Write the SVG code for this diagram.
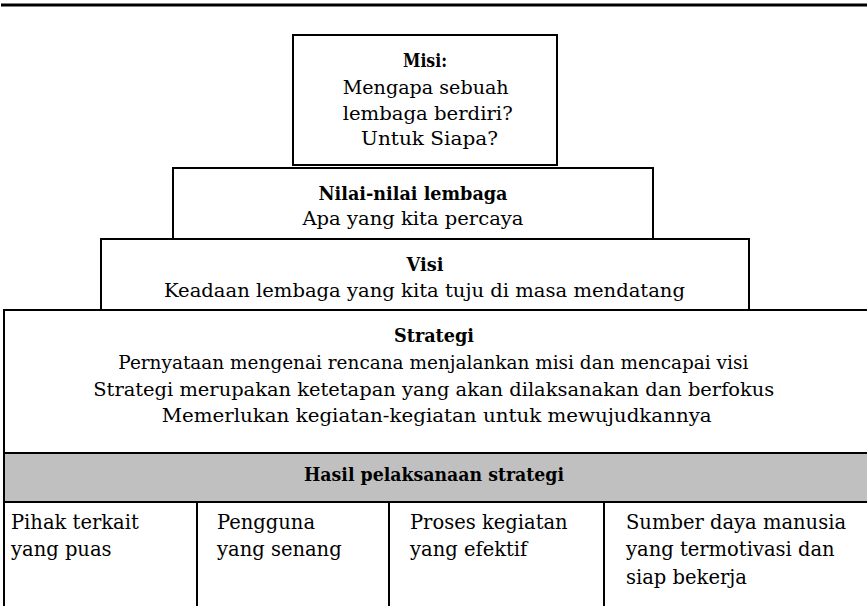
<svg xmlns="http://www.w3.org/2000/svg" width="867" height="606" viewBox="0 0 867 606">
<style>
.box{fill:#fff;stroke:#000;stroke-width:2}
.band{fill:#c0c0c0;stroke:#000;stroke-width:2}
.ln{stroke:#000;stroke-width:2;fill:none}
text{font-family:"DejaVu Serif","Liberation Serif",serif;font-size:19px;fill:#000}
.t{font-weight:bold;font-size:19px}
.c{text-anchor:middle}
.s{font-size:19.5px}
</style>
<rect width="867" height="606" fill="#fff"/>
<line x1="1" y1="5" x2="867" y2="5" stroke="#000" stroke-width="3"/>
<g id="misi">
<rect class="box" x="293" y="35" width="264" height="130"/>
<text class="t c" x="425" y="66.5" textLength="44" lengthAdjust="spacingAndGlyphs">Misi:</text>
<text x="342.7" y="94" textLength="166" lengthAdjust="spacingAndGlyphs">Mengapa sebuah</text>
<text x="342.7" y="120" textLength="170" lengthAdjust="spacingAndGlyphs">lembaga berdiri?</text>
<text x="361" y="145" textLength="137" lengthAdjust="spacingAndGlyphs">Untuk Siapa?</text>
</g>
<g id="nilai">
<rect class="box" x="173" y="168" width="480" height="71"/>
<text class="t c" x="413" y="200" textLength="189" lengthAdjust="spacingAndGlyphs">Nilai-nilai lembaga</text>
<text class="c" x="413" y="225" textLength="221" lengthAdjust="spacingAndGlyphs">Apa yang kita percaya</text>
</g>
<g id="visi">
<rect class="box" x="101" y="239" width="648" height="71"/>
<text class="t c" x="425" y="271" textLength="37" lengthAdjust="spacingAndGlyphs">Visi</text>
<text x="164" y="296.5" textLength="521" lengthAdjust="spacingAndGlyphs">Keadaan lembaga yang kita tuju di masa mendatang</text>
</g>
<g id="strategi">
<rect class="box" x="4" y="310" width="880" height="143"/>
<text class="t c" x="434" y="342" textLength="80" lengthAdjust="spacingAndGlyphs">Strategi</text>
<text x="118.3" y="369" textLength="630" lengthAdjust="spacingAndGlyphs">Pernyataan mengenai rencana menjalankan misi dan mencapai visi</text>
<text x="93.3" y="396" textLength="681" lengthAdjust="spacingAndGlyphs">Strategi merupakan ketetapan yang akan dilaksanakan dan berfokus</text>
<text x="161.7" y="422" textLength="550" lengthAdjust="spacingAndGlyphs">Memerlukan kegiatan-kegiatan untuk mewujudkannya</text>
</g>
<g id="hasil">
<rect class="band" x="4" y="453" width="880" height="49"/>
<text class="t c" x="434" y="481" textLength="260" lengthAdjust="spacingAndGlyphs">Hasil pelaksanaan strategi</text>
</g>
<g id="hasil-cells">
<rect class="box" x="4" y="502" width="880" height="120"/>
<line class="ln" x1="197" y1="502" x2="197" y2="606"/>
<line class="ln" x1="389" y1="502" x2="389" y2="606"/>
<line class="ln" x1="604" y1="502" x2="604" y2="606"/>
</g>
<g id="cell-pihak">
<text class="s" x="11" y="529">Pihak terkait</text>
<text class="s" x="11" y="556">yang puas</text>
</g>
<g id="cell-pengguna">
<text class="s" x="217" y="529">Pengguna</text>
<text class="s" x="217" y="556">yang senang</text>
</g>
<g id="cell-proses">
<text class="s" x="410" y="529">Proses kegiatan</text>
<text class="s" x="410" y="556">yang efektif</text>
</g>
<g id="cell-sdm">
<text class="s" x="626" y="529">Sumber daya manusia</text>
<text class="s" x="626" y="556">yang termotivasi dan</text>
<text class="s" x="626" y="584">siap bekerja</text>
</g>
<g id="connectors"/>
</svg>
